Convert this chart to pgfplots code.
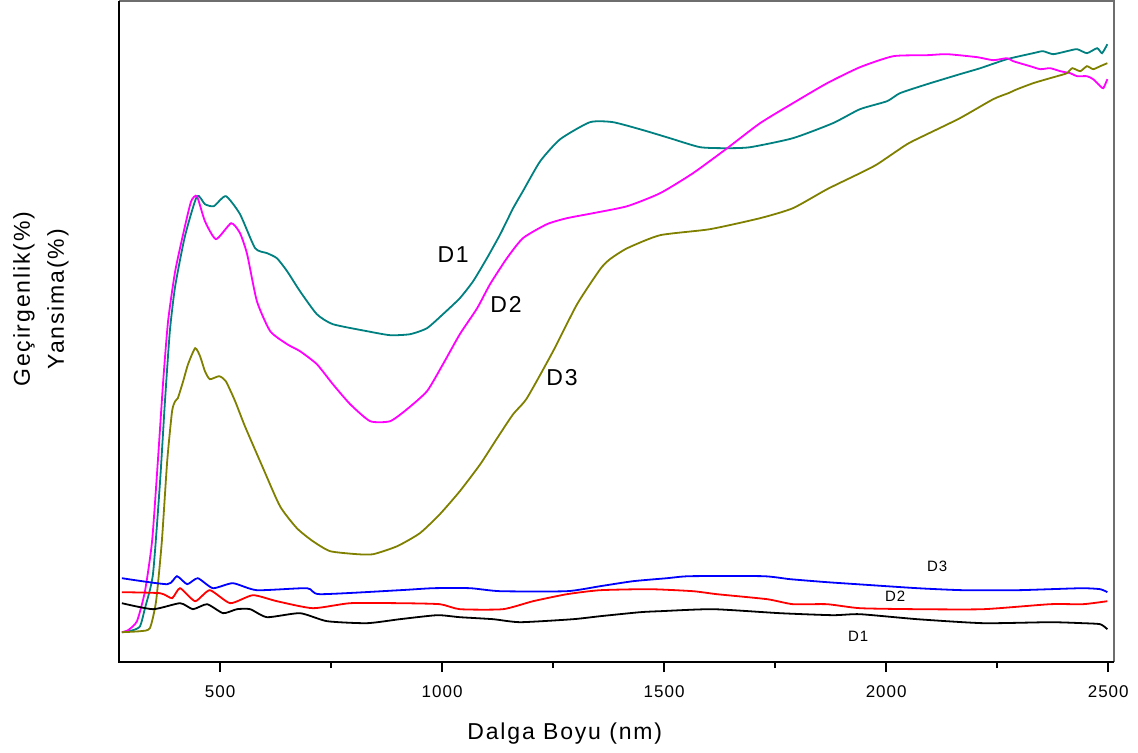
\documentclass[border=0pt]{standalone}
\usepackage{pgfplots}
\pgfplotsset{compat=1.18}
\usepackage{fontspec}
\setmainfont{Liberation Sans}
\newfontfamily\lsfont[LetterSpace=6]{Liberation Sans}
\newfontfamily\lbfont[LetterSpace=8]{Liberation Sans}
\definecolor{cteal}{RGB}{0,128,128}
\definecolor{cmag}{RGB}{255,0,255}
\definecolor{colive}{RGB}{128,128,0}
\definecolor{cblue}{RGB}{0,0,255}
\definecolor{cred}{RGB}{255,0,0}
\definecolor{frame}{RGB}{110,110,110}

\begin{document}
\begin{tikzpicture}
\begin{axis}[
  scale only axis,
  width=497.5pt, height=330.5pt,
  xmin=272.5, xmax=2513, ymin=0, ymax=661,
  clip=false,
  axis line style={draw=none},
  xtick={500,1000,1500,2000,2500},
  xticklabels={500,1000,1500,2000,2500},
  minor x tick num=1,
  ytick=\empty,
  xtick pos=left,
  tick align=outside,
  major tick length=5pt, minor tick length=3pt,
  every tick/.style={black, line width=0.9pt},
  xticklabel style={font=\lsfont\fontsize{8.5}{10}\selectfont, yshift=-3pt},
  /pgf/number format/assume math mode=true,
  xlabel={Dalga Boyu (nm)},
  xlabel style={font=\lbfont\fontsize{11.5}{14}\selectfont, at={(axis description cs:0.448,-0.1165)}, anchor=base},
  ylabel={Geçirgenlik(\%)\\Yansima(\%)},
  ylabel style={font=\lbfont\fontsize{11.5}{17}\selectfont, align=center, at={(axis description cs:-0.0784,0.549)}, anchor=center, rotate=0},
  every axis plot/.append style={line width=0.9pt, smooth, tension=0.35},
]
% D1 transmission
\addplot[cteal] coordinates {
(279,30)(304,32)(320,36)(331,54)(349,88)(365,181)(376,261)(387,331)(399,376)
(421,426)(448,466)(466,458)(486,456)(513,466)(545,448)(579,414)(606,409)(628,404)
(651,391)(680,371)(718,348)(754,338)(831,331)(883,327)(928,328)(966,334)(1002,348)
(1040,364)(1070,381)(1101,404)(1131,428)(1160,454)(1182,471)(1221,501)(1266,523)
(1333,540)(1385,540)(1453,532)(1513,524)(1581,515)(1642,514)(1694,515)(1790,524)
(1880,539)(1941,553)(2002,561)(2031,569)(2092,578)(2166,588)(2212,594)(2272,603)
(2331,609)(2353,611)(2376,608)(2407,611)(2430,613)(2452,609)(2475,614)(2486,609)(2498,618)
};
% D2 transmission
\addplot[cmag] coordinates {
(279,30)(293,32)(313,41)(331,71)(347,121)(360,201)(372,281)(383,341)(399,391)
(421,436)(435,461)(448,466)(466,441)(491,423)(525,439)(545,429)(561,408)(583,361)
(613,331)(651,318)(680,311)(718,298)(754,278)(793,258)(838,241)(883,241)(921,253)
(966,271)(1002,298)(1040,328)(1079,354)(1108,378)(1146,404)(1182,424)(1236,438)
(1281,444)(1340,449)(1417,456)(1491,469)(1565,489)(1642,514)(1716,539)(1790,559)
(1867,579)(1941,595)(2016,606)(2092,607)(2137,608)(2205,605)(2241,602)(2272,604)
(2286,601)(2324,596)(2347,593)(2369,594)(2392,591)(2414,589)(2430,586)(2452,586)
(2466,583)(2482,576)(2489,574)(2498,583)
};
% D3 transmission
\addplot[colive] coordinates {
(279,30)(320,31)(342,34)(356,61)(369,121)(381,201)(392,251)(399,261)(405,264)
(417,281)(428,298)(444,314)(455,306)(466,291)(477,283)(498,286)(513,281)(534,261)
(556,236)(595,196)(635,156)(673,134)(709,121)(748,111)(809,108)(845,108)(899,116)
(950,129)(995,148)(1040,171)(1086,198)(1124,224)(1160,248)(1191,264)(1250,311)
(1304,358)(1356,393)(1378,403)(1417,414)(1491,427)(1603,433)(1716,444)(1790,454)
(1867,473)(1941,489)(1980,498)(2047,518)(2092,528)(2166,544)(2241,563)(2275,569)
(2295,573)(2331,579)(2369,584)(2385,586)(2407,589)(2419,594)(2437,591)(2452,596)
(2466,593)(2482,596)(2498,599)
};
% D3 reflectance
\addplot[cblue] coordinates {
(279,84)(381,78)(403,86)(426,78)(450,84)(484,74)(529,79)(583,72)(696,74)(725,68)
(905,72)(980,74)(1063,74)(1131,71)(1281,71)(1356,76)(1430,81)(1507,84)(1558,86)
(1723,86)(1784,83)(1867,80)(1934,78)(2070,74)(2173,72)(2295,72)(2369,73)(2443,74)
(2482,73)(2498,70)
};
% D2 reflectance
\addplot[cred] coordinates {
(279,70)(365,69)(392,64)(410,74)(444,61)(477,72)(523,59)(574,67)(628,61)(709,54)
(793,59)(905,59)(995,58)(1040,53)(1137,53)(1205,61)(1281,68)(1356,72)(1468,73)
(1565,71)(1619,68)(1732,63)(1790,58)(1867,58)(1941,54)(2070,53)(2219,53)(2369,58)
(2443,58)(2498,61)
};
% D1 reflectance
\addplot[black] coordinates {
(279,59)(349,53)(410,59)(439,53)(471,58)(507,49)(538,53)(568,53)(606,45)(680,49)
(741,41)(831,39)(905,43)(989,47)(1040,45)(1115,43)(1176,40)(1295,43)(1356,46)
(1446,50)(1491,51)(1610,53)(1761,49)(1880,47)(1941,48)(2070,43)(2219,39)(2369,40)
(2443,39)(2482,38)(2498,33)
};
% curve names
\node[font=\lbfont\fontsize{11.5}{14}\selectfont] at (axis cs:1025,408) {D1};
\node[font=\lbfont\fontsize{11.5}{14}\selectfont] at (axis cs:1144,358) {D2};
\node[font=\lbfont\fontsize{11.5}{14}\selectfont] at (axis cs:1270,285) {D3};
\node[font=\lsfont\fontsize{7.5}{9}\selectfont] at (axis cs:2115,96) {D3};
\node[font=\lsfont\fontsize{7.5}{9}\selectfont] at (axis cs:2020,66) {D2};
\node[font=\lsfont\fontsize{7.5}{9}\selectfont] at (axis cs:1937,26) {D1};
% frame: grey top/right, black left/bottom
\draw[frame, line width=0.8pt] (rel axis cs:0,1) -- (rel axis cs:1,1) -- (rel axis cs:1,0);
\draw[black, line width=1.2pt] (rel axis cs:0,1) -- (rel axis cs:0,0) -- (rel axis cs:1,0);
\end{axis}
\path ([shift={(-59.5pt,-45pt)}]current axis.south west) rectangle ([shift={(12pt,0pt)}]current axis.north east);
\end{tikzpicture}
\end{document}
